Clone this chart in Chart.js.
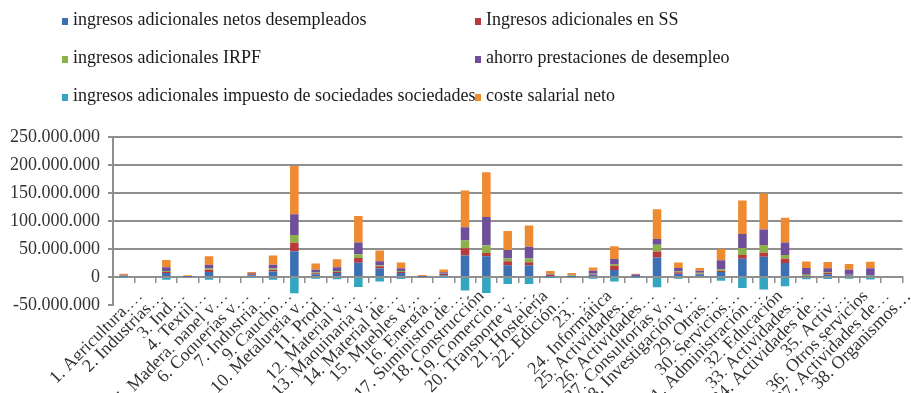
<!DOCTYPE html>
<html>
<head>
<meta charset="utf-8">
<script src="https://cdn.jsdelivr.net/npm/chart.js@4.4.0/dist/chart.umd.min.js"></script>
<style>
  html, body { margin: 0; padding: 0; background: #ffffff; }
  #wrap { width: 911px; height: 393px; position: relative; }
</style>
</head>
<body>
<div id="wrap"><canvas id="chart" width="911" height="393"></canvas></div>
<script>
// Sectores (etiquetas recortadas como en la hoja de cálculo)
const categories = [
  '1. Agricultura,…', '2. Industrias…', '3. Ind…', '4. Textil…', '5. Madera, papel y…',
  '6. Coquerías y…', '7. Industria…', '9. Caucho…', '10. Metalurgia y…', '11. Prod…',
  '12. Material y…', '13. Maquinaria y…', '14. Material de…', '15. Muebles y…', '16. Energía…',
  '17. Suministro de…', '18. Construcción', '19. Comercio…', '20. Transporte y…', '21. Hostelería',
  '22. Edición…', '23. …', '24. Informática', '25. Actividades…', '26. Actividades…',
  '27. Consultorías y…', '28. Investigación y…', '29. Otras…', '30. Servicios…', '31. Administración…',
  '32. Educación', '33. Actividades…', '34. Actividades de…', '35. Activ…', '36. Otros servicios',
  '37. Actividades de…', '38. Organismos…'
];

// Importes en millones de euros
const ingresosNetosDesempleados = [
  1.5, 0, 7, 0.5, 9, 0, 3, 10, 46, 5,
  7, 25.5, 15, 7, 0.5, 3, 38.5, 37, 21, 21,
  1.5, 0.5, 4, 12.5, 1, 35, 6, 5, 9, 32.5,
  36, 25, 1.5, 5, 3, 2.5, 0
];
const ingresosSS = [
  0.8, 0, 2, 0.3, 4, 0, 2, 3, 15, 1.5,
  2, 8.5, 4, 2, 0.3, 2.5, 13, 6, 7, 5.5,
  2.5, 0.5, 1, 7.5, 0.5, 10.5, 2.5, 1, 1.5, 7,
  7.5, 7.5, 0.5, 2.5, 0.5, 0.5, 0
];
const ingresosIRPF = [
  0.3, 0, 1.5, 0.2, 2, 0, 0.5, 2, 14, 1.5,
  1.5, 6.5, 2, 1.5, 0.2, 0.5, 13.5, 13.5, 5, 6.5,
  0.5, 2, 1, 3, 0.3, 12, 1.5, 1.5, 3, 12,
  13.5, 7, 2, 1.5, 0.5, 0.7, 0
];
const ahorroPrestaciones = [
  1.5, 0, 7, 0.5, 7, 0, 1, 7, 37, 5,
  7, 21, 7, 5, 0.5, 2.5, 24, 50.5, 15, 21,
  1.5, 1, 5, 9, 2.5, 10.5, 6, 3.5, 16.5, 25.5,
  28, 22, 12, 6.5, 9, 12, 0
];
const impuestoSociedades = [
  -0.5, 0, -5, 0, -5, 0, -1, -5, -29, -3,
  -4, -18, -8, -3.5, 0, -1, -24, -28.5, -12.5, -12.5,
  -0.5, 0, -3, -8, -0.5, -18.5, -3, -2, -6.5, -19.5,
  -22.5, -16.5, -4, -3.5, -3, -4.5, 0
];
const costeSalarialNeto = [
  1.5, 0, 13, 1.5, 15, 0, 2.5, 16.5, 86, 11,
  14, 47.5, 19.5, 10.5, 2, 5, 65.5, 80, 34, 38,
  4.7, 3, 6, 23, 1.5, 53, 10, 5, 20, 59.5,
  64, 44.5, 11.5, 11.5, 10, 11.5, 0
];

// Eje vertical (millones)
const yMin = -50;
const yMax = 250;
const yStep = 50;

function formatEuros(millions) {
  const v = Math.round(millions * 1000000);
  const s = String(Math.abs(v)).replace(/\B(?=(\d{3})+(?!\d))/g, '.');
  return (v < 0 ? '-' : '') + s;
}

// Leyenda en dos columnas
const gridLegend = {
  id: 'gridLegend',
  afterDraw(chart, args, opts) {
    const ctx = chart.ctx;
    ctx.save();
    ctx.font = opts.font;
    ctx.textBaseline = 'middle';
    ctx.textAlign = 'left';
    chart.data.datasets.forEach((ds, i) => {
      const x = opts.columns[i % 2];
      const y = opts.rows[Math.floor(i / 2)];
      ctx.fillStyle = ds.backgroundColor;
      ctx.fillRect(x, y - opts.box / 2 + 1, opts.box, opts.box + 1);
      ctx.fillStyle = opts.color;
      ctx.fillText(ds.label, x + opts.box + opts.gap, y);
    });
    ctx.restore();
  }
};

Chart.defaults.font.family = "'Liberation Serif', 'Times New Roman', serif";
Chart.defaults.font.size = 18;
Chart.defaults.color = '#333333';

const gridColor = '#8f8f8f';

new Chart(document.getElementById('chart'), {
  type: 'bar',
  data: {
    labels: categories,
    datasets: [
      { label: 'ingresos adicionales netos desempleados', data: ingresosNetosDesempleados, backgroundColor: '#3d70b3' },
      { label: 'Ingresos adicionales en SS', data: ingresosSS, backgroundColor: '#b93a3b' },
      { label: 'ingresos adicionales IRPF', data: ingresosIRPF, backgroundColor: '#8bb14a' },
      { label: 'ahorro prestaciones de desempleo', data: ahorroPrestaciones, backgroundColor: '#6f4f9a' },
      { label: 'ingresos adicionales impuesto de sociedades sociedades', data: impuestoSociedades, backgroundColor: '#33a5c1' },
      { label: 'coste salarial neto', data: costeSalarialNeto, backgroundColor: '#ee8a2f' }
    ]
  },
  options: {
    responsive: false,
    animation: false,
    layout: { padding: { top: 137, bottom: 88, left: 0, right: 1 } },
    datasets: { bar: { categoryPercentage: 1, barPercentage: 0.4, borderWidth: 0 } },
    plugins: {
      legend: { display: false },
      tooltip: { enabled: false },
      gridLegend: {
        font: "18px 'Liberation Serif', 'Times New Roman', serif",
        color: '#1a1a1a',
        columns: [62, 475],
        rows: [20, 58, 96],
        box: 6,
        gap: 5
      }
    },
    scales: {
      x: {
        stacked: true,
        position: { y: 0 },
        grid: { drawOnChartArea: false, drawTicks: true, tickLength: 5, color: gridColor, lineWidth: 1.5 },
        border: { display: true, color: gridColor, width: 2 },
        ticks: {
          autoSkip: false,
          minRotation: 45,
          maxRotation: 45,
          labelOffset: 9,
          padding: 4,
          color: '#333333',
          showLabelBackdrop: true,
          backdropColor: '#ffffff',
          backdropPadding: 0
        }
      },
      y: {
        stacked: true,
        min: yMin,
        max: yMax,
        grid: { color: gridColor, lineWidth: 2, tickLength: 5, z: -1 },
        border: { display: true, color: gridColor, width: 2 },
        ticks: { stepSize: yStep, padding: 8, color: '#333333', callback: v => formatEuros(v) },
        afterFit(scale) { scale.width = 113; }
      }
    }
  },
  plugins: [gridLegend]
});
</script>
</body>
</html>
